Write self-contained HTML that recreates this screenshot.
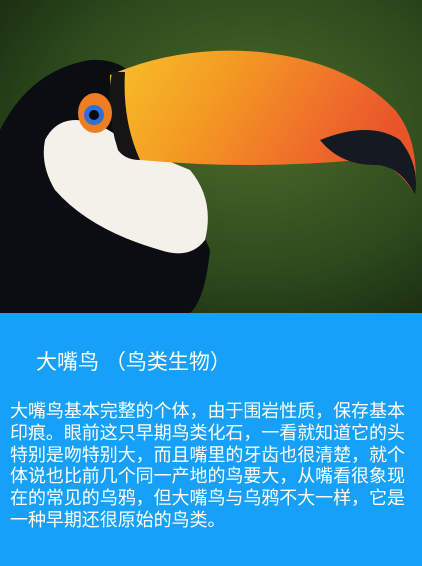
<!DOCTYPE html>
<html><head><meta charset="utf-8"><style>
html,body{margin:0;padding:0;width:422px;height:566px;overflow:hidden;background:#17a0f7}
.photo{position:absolute;left:0;top:0;width:422px;height:313px}
.title{position:absolute;left:36px;top:346px;color:#fff;font:21px "Liberation Sans","Noto Sans CJK SC",sans-serif;white-space:nowrap}
.body{position:absolute;left:10px;top:401px;width:406px;color:#fff;font:18px/21.8px "Liberation Sans","Noto Sans CJK SC",sans-serif;letter-spacing:-0.05px}
</style></head><body>
<svg class="photo" viewBox="0 0 422 313" width="422" height="313">
<defs>
<radialGradient id="bg" cx="0.6" cy="0.4" r="0.8"><stop offset="0" stop-color="#4d6a2a"/><stop offset="0.6" stop-color="#2c4a1c"/><stop offset="1" stop-color="#16260f"/></radialGradient>
<linearGradient id="beak" x1="0" y1="0" x2="1" y2="0.3"><stop offset="0" stop-color="#f7c12a"/><stop offset="0.4" stop-color="#f39a22"/><stop offset="0.8" stop-color="#ee6a2a"/><stop offset="1" stop-color="#e9542a"/></linearGradient>
</defs>
<rect width="422" height="313" fill="url(#bg)"/>
<path d="M0 130 Q30 70 90 60 Q130 58 140 90 L210 250 Q205 300 190 313 L0 313Z" fill="#0b0d12"/>
<path d="M45 140 Q60 110 100 125 Q140 150 190 170 Q215 200 205 240 Q190 260 160 250 Q90 230 55 190 Q40 165 45 140Z" fill="#f3f1ea"/>
<path d="M110 75 Q180 45 260 52 Q350 62 395 110 Q420 140 415 195 Q395 160 360 160 Q250 170 140 160 Q110 140 110 75Z" fill="url(#beak)"/>
<path d="M320 140 Q370 120 400 140 Q420 165 415 195 Q400 165 375 165 Q340 165 320 140Z" fill="#151a22"/>
<path d="M112 72 Q105 110 118 150 Q125 160 140 160 Q122 120 125 72Z" fill="#151515"/>
<ellipse cx="95" cy="113" rx="17" ry="20" fill="#ef7e22"/>
<circle cx="94" cy="115" r="10" fill="#2f6fd6"/>
<circle cx="94" cy="115" r="5" fill="#0a0a0a"/>
</svg>
<div class="title">大嘴鸟 （鸟类生物）</div>
<div class="body">大嘴鸟基本完整的个体，由于围岩性质，保存基本印痕。眼前这只早期鸟类化石，一看就知道它的头特别是吻特别大，而且嘴里的牙齿也很清楚，就个体说也比前几个同一产地的鸟要大，从嘴看很象现在的常见的乌鸦，但大嘴鸟与乌鸦不大一样，它是一种早期还很原始的鸟类。</div>
</body></html>
